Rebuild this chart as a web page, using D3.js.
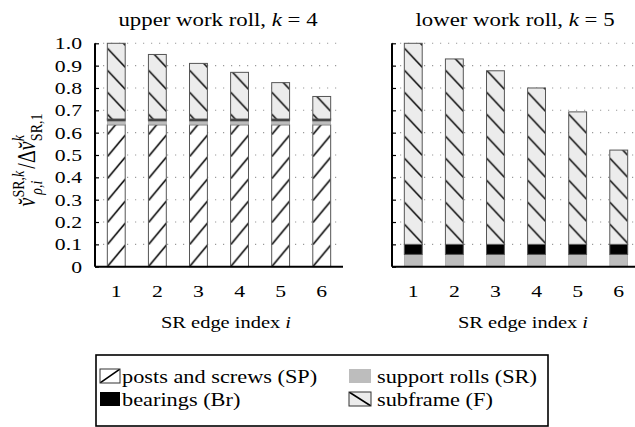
<!DOCTYPE html>
<html>
<head>
<meta charset="utf-8">
<script src="https://cdn.jsdelivr.net/npm/d3@7"></script>
<style>
  html, body { margin: 0; padding: 0; background: #fff; }
</style>
</head>
<body>
<svg id="chart" width="635" height="427"></svg>
<script>
const SERIF = '"Liberation Serif"';
const SX = 1.24;            // horizontal stretch of all lettering

// SR edge indices along the x axis
const edges = [1, 2, 3, 4, 5, 6];
// y-axis ticks and their labels
const yTicks = [0, 0.1, 0.2, 0.3, 0.4, 0.5, 0.6, 0.7, 0.8, 0.9, 1.0];
const yTickLabels = ["0", "0.1", "0.2", "0.3", "0.4", "0.5", "0.6", "0.7", "0.8", "0.9", "1.0"];

// stacked shares, upper work roll (k = 4)
const upperSP = [0.635, 0.635, 0.635, 0.635, 0.635, 0.635];
const upperSR = [0.018, 0.018, 0.018, 0.018, 0.018, 0.018];
const upperBr = [0.008, 0.008, 0.008, 0.008, 0.008, 0.008];
const upperF  = [0.339, 0.289, 0.249, 0.209, 0.163, 0.101];

// stacked shares, lower work roll (k = 5)
const lowerSP = [0, 0, 0, 0, 0, 0];
const lowerSR = [0.055, 0.055, 0.055, 0.055, 0.055, 0.055];
const lowerBr = [0.045, 0.045, 0.045, 0.045, 0.045, 0.045];
const lowerF  = [0.900, 0.830, 0.777, 0.700, 0.593, 0.422];

const seriesKeys = ["SP", "SR", "Br", "F"];
const legendLabels = {
  SP: "posts and screws (SP)",
  SR: "support rolls (SR)",
  Br: "bearings (Br)",
  F: "subframe (F)"
};

const panels = [
  { id: "up", title: ["upper work roll, ", "k", " = 4"], x0: 95, x1: 343, cx: 218, showLabels: true,
    series: { SP: upperSP, SR: upperSR, Br: upperBr, F: upperF } },
  { id: "lo", title: ["lower work roll, ", "k", " = 5"], x0: 392, x1: 640, cx: 515, showLabels: false,
    series: { SP: lowerSP, SR: lowerSR, Br: lowerBr, F: lowerF } }
];

const svg = d3.select("#chart").style("font-family", SERIF);
const defs = svg.append("defs");

const y = d3.scaleLinear().domain([0, 1]).range([266.7, 43.3]);

const hatchTileH = 22;

function addHatch(id, x, step, bw, dir, bg) {
  const p = defs.append("pattern")
    .attr("id", id)
    .attr("patternUnits", "userSpaceOnUse")
    .attr("x", x).attr("y", y(0))
    .attr("width", step).attr("height", hatchTileH);
  p.append("rect").attr("width", bw).attr("height", hatchTileH).attr("fill", bg);
  const line = dir === "/"
    ? [[0, hatchTileH], [bw, 0.5]]
    : [[0, 1.5], [bw, 20.5]];
  p.append("line")
    .attr("x1", line[0][0]).attr("y1", line[0][1])
    .attr("x2", line[1][0]).attr("y2", line[1][1])
    .attr("stroke", "#000").attr("stroke-width", 1.5);
}

const plainFill = { SR: "#bdbdbd", Br: "#000000" };

// a text element placed at (x, y) and stretched horizontally
function label(parent, x, yy, size, anchor) {
  return parent.append("g")
    .attr("transform", `translate(${x},${yy}) scale(${SX},1)`)
    .append("text")
    .attr("text-anchor", anchor || "start")
    .style("font-family", SERIF)
    .attr("font-size", size)
    .attr("fill", "#000");
}

panels.forEach(panel => {
  const x = d3.scaleBand().domain(edges).range([panel.x0, panel.x1])
    .paddingInner(0.565).paddingOuter(0.3);
  const bw = x.bandwidth();
  const step = x.step();

  addHatch("hatch-SP-" + panel.id, x(edges[0]), step, bw, "/", "#ffffff");
  addHatch("hatch-F-" + panel.id, x(edges[0]), step, bw, "\\", "#ececec");

  const g = svg.append("g");

  // dotted grid
  g.append("g").selectAll("line")
    .data(yTicks.filter(t => t > 0))
    .join("line")
    .attr("x1", panel.x0).attr("x2", panel.x1)
    .attr("y1", d => y(d)).attr("y2", d => y(d))
    .attr("stroke", "#9a9a9a").attr("stroke-width", 1.1)
    .attr("stroke-dasharray", "1.2,6.8");

  // stacked bars
  const rows = edges.map((e, i) => {
    const r = { edge: e };
    seriesKeys.forEach(k => { r[k] = panel.series[k][i]; });
    return r;
  });
  const stacked = d3.stack().keys(seriesKeys)(rows);

  stacked.forEach(layer => {
    const key = layer.key;
    const fill = key === "SP" ? `url(#hatch-SP-${panel.id})`
               : key === "F" ? `url(#hatch-F-${panel.id})`
               : plainFill[key];
    g.append("g").selectAll("rect")
      .data(layer.filter(d => d[1] - d[0] > 0))
      .join("rect")
      .attr("x", d => x(d.data.edge))
      .attr("width", bw)
      .attr("y", d => y(d[1]))
      .attr("height", d => y(d[0]) - y(d[1]))
      .attr("fill", fill)
      .attr("stroke", key === "SR" ? "#9a9a9a" : "#555")
      .attr("stroke-width", key === "SR" ? 0.6 : 1);
  });

  // left axis with inward ticks
  const yAxis = d3.axisRight(y).tickValues(yTicks).tickSize(4).tickFormat("");
  const ya = g.append("g").attr("transform", `translate(${panel.x0},0)`).call(yAxis);
  ya.select(".domain").attr("stroke", "#000").attr("stroke-width", 2)
    .attr("d", `M0,${y(0)}V${y(1)}`);
  ya.selectAll(".tick line").attr("stroke", "#000").attr("stroke-width", 1.2);

  // tick labels on the left panel only
  if (panel.showLabels) {
    const yl = d3.axisLeft(y).tickValues(yTicks).tickSize(0).tickPadding(10.5)
      .tickFormat((d, i) => yTickLabels[i]);
    const yla = g.append("g").attr("transform", `translate(${panel.x0},0)`).call(yl);
    yla.attr("font-family", null).select(".domain").remove();
    yla.selectAll(".tick text")
      .style("font-family", SERIF).attr("font-size", 17.5).attr("fill", "#000")
      .attr("transform", `scale(${SX},1)`);
  }

  // bottom axis
  const xAxis = d3.axisBottom(x).tickSize(0).tickPadding(18);
  const xa = g.append("g").attr("transform", `translate(0,${y(0)})`).call(xAxis);
  xa.attr("font-family", null);
  xa.select(".domain").attr("stroke", "#000").attr("stroke-width", 2)
    .attr("d", `M${panel.x0},0H${panel.x1}`);
  xa.selectAll(".tick text")
    .style("font-family", SERIF).attr("font-size", 17.5).attr("fill", "#000")
    .attr("transform", `scale(${SX},1)`);

  // panel title
  const t = label(g, panel.cx, 26, 18.4, "middle");
  t.append("tspan").text(panel.title[0]);
  t.append("tspan").attr("font-style", "italic").text(panel.title[1]);
  t.append("tspan").text(panel.title[2]);

  // x-axis title
  const xt = label(g, panel.cx + 8, 328, 16.5, "middle");
  xt.append("tspan").text("SR edge index ");
  xt.append("tspan").attr("font-style", "italic").text("i");
});

// y-axis title
const yl = svg.append("g")
  .attr("transform", `translate(35,160) scale(${SX},1) rotate(-90)`)
  .append("text")
  .attr("text-anchor", "middle")
  .style("font-family", SERIF)
  .attr("font-size", 20);
yl.append("tspan").attr("font-style", "italic").text("v\u0306");
yl.append("tspan").attr("font-size", 14).attr("dy", -9).text("SR,");
yl.append("tspan").attr("font-size", 14).attr("font-style", "italic").text("k");
yl.append("tspan").attr("font-size", 14).attr("font-style", "italic").attr("dx", -24).attr("dy", 15).text("\u03c1,i");
yl.append("tspan").attr("dx", 12).attr("dy", -6).text("/\u0394");
yl.append("tspan").attr("font-style", "italic").text("v\u0306");
yl.append("tspan").attr("font-size", 14).attr("font-style", "italic").attr("dy", -9).text("k");
yl.append("tspan").attr("font-size", 14).attr("dx", -6).attr("dy", 15).text("SR,1");

// legend
const lg = svg.append("g");
lg.append("rect").attr("x", 96).attr("y", 355).attr("width", 452).attr("height", 71)
  .attr("fill", "#fff").attr("stroke", "#000").attr("stroke-width", 1.6);

const legendItems = [
  { key: "SP", x: 100, y: 383, w: 20, tx: 122 },
  { key: "Br", x: 100, y: 406, w: 20, tx: 122 },
  { key: "SR", x: 349, y: 383, w: 22, tx: 377 },
  { key: "F",  x: 349, y: 406, w: 22, tx: 377 }
];

defs.append("pattern").attr("id", "leg-SP").attr("patternUnits", "userSpaceOnUse")
  .attr("x", 100).attr("y", 369).attr("width", 20).attr("height", 14)
  .append("line").attr("x1", 0).attr("y1", 14).attr("x2", 20).attr("y2", 0)
  .attr("stroke", "#000").attr("stroke-width", 1.5);
const lf = defs.append("pattern").attr("id", "leg-F").attr("patternUnits", "userSpaceOnUse")
  .attr("x", 349).attr("y", 392).attr("width", 22).attr("height", 14);
lf.append("rect").attr("width", 22).attr("height", 14).attr("fill", "#ececec");
lf.append("line").attr("x1", 0).attr("y1", 0).attr("x2", 22).attr("y2", 14)
  .attr("stroke", "#000").attr("stroke-width", 1.7);

const swatchStyle = {
  SP: { fill: "url(#leg-SP)", stroke: "#333" },
  Br: { fill: "#000", stroke: "none" },
  SR: { fill: "#bdbdbd", stroke: "none" },
  F:  { fill: "url(#leg-F)", stroke: "#333" }
};
legendItems.forEach(it => {
  lg.append("rect").attr("x", it.x).attr("y", it.y - 14).attr("width", it.w).attr("height", 14)
    .attr("fill", swatchStyle[it.key].fill).attr("stroke", swatchStyle[it.key].stroke)
    .attr("stroke-width", 1);
  label(lg, it.tx, it.y, 18, "start").text(legendLabels[it.key]);
});
</script>
</body>
</html>
